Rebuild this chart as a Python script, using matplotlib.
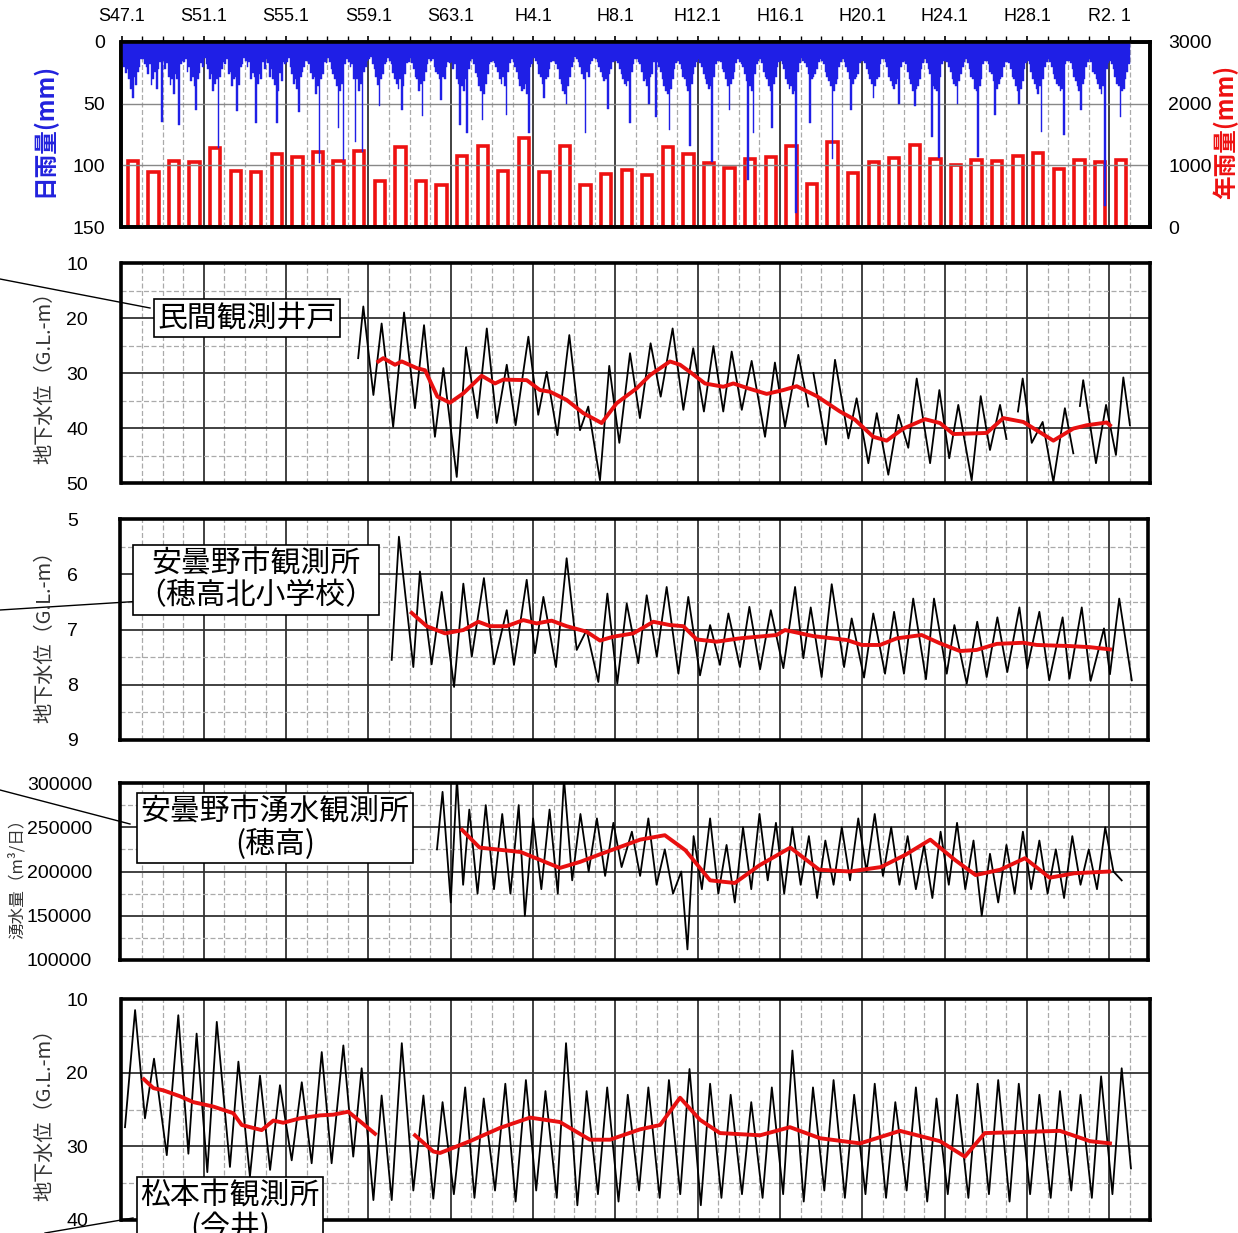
import numpy as np
import matplotlib.pyplot as plt
from matplotlib.lines import Line2D

plt.rcParams['font.family'] = ['Liberation Sans', 'Noto Sans CJK JP', 'DejaVu Sans']
JP = ['Noto Sans CJK JP', 'DejaVu Sans']

# ---- data ----
years = list(range(1972, 2021))

# annual rainfall (mm)
rain_annual = [1075, 892, 1075, 1059, 1281, 903, 887, 1178, 1135, 1211,
               1075, 1227, 746, 1297, 746, 676, 1151, 1318, 908, 1448,
               887, 1318, 676, 865, 930, 843, 1302, 1184, 1033, 962,
               1103, 1130, 1318, 692, 1383, 870, 1059, 1113, 1335, 1103,
               1010, 1081, 1065, 1157, 1200, 935, 1081, 1054, 1086]

# largest daily rainfall of each month (mm), one row per year
rain_daily_max = [
    [16, 20, 25, 22, 30, 38, 45, 28, 35, 24, 20, 14],
    [14, 18, 20, 26, 18, 35, 30, 24, 38, 22, 16, 65],
    [15, 22, 17, 28, 35, 30, 42, 26, 30, 67, 18, 15],
    [16, 14, 24, 20, 32, 28, 36, 55, 30, 25, 17, 20],
    [13, 18, 22, 30, 26, 40, 34, 30, 86, 28, 22, 16],
    [18, 14, 26, 24, 36, 30, 28, 56, 35, 20, 18, 13],
    [15, 20, 16, 30, 25, 28, 66, 34, 26, 30, 16, 22],
    [14, 17, 28, 22, 30, 35, 66, 40, 25, 32, 16, 18],
    [16, 13, 20, 26, 34, 30, 38, 57, 28, 24, 20, 15],
    [15, 18, 25, 30, 28, 42, 36, 98, 30, 26, 16, 17],
    [13, 16, 22, 26, 30, 36, 70, 40, 34, 96, 18, 14],
    [16, 20, 18, 30, 81, 30, 40, 34, 89, 24, 20, 15],
    [14, 12, 18, 22, 28, 35, 52, 30, 26, 18, 16, 13],
    [15, 18, 25, 30, 34, 38, 30, 55, 36, 26, 17, 16],
    [13, 17, 22, 28, 30, 40, 34, 60, 32, 24, 18, 14],
    [15, 14, 20, 24, 26, 30, 47, 28, 30, 20, 16, 17],
    [16, 22, 18, 30, 34, 67, 36, 40, 30, 74, 22, 15],
    [14, 18, 25, 28, 36, 40, 63, 42, 34, 26, 18, 16],
    [15, 17, 20, 24, 30, 34, 28, 36, 59, 24, 17, 14],
    [16, 20, 24, 30, 36, 40, 38, 34, 42, 74, 20, 18],
    [13, 15, 18, 26, 28, 34, 45, 30, 28, 22, 16, 15],
    [15, 18, 22, 30, 34, 40, 42, 50, 36, 28, 20, 16],
    [12, 14, 16, 20, 26, 30, 74, 24, 28, 18, 15, 13],
    [14, 16, 20, 24, 28, 32, 30, 54, 26, 22, 16, 15],
    [15, 17, 22, 26, 30, 34, 36, 32, 66, 24, 18, 14],
    [14, 16, 18, 24, 32, 30, 36, 50, 28, 26, 16, 61],
    [16, 20, 24, 30, 36, 40, 42, 71, 38, 30, 22, 17],
    [15, 18, 22, 28, 30, 36, 40, 84, 34, 26, 20, 16],
    [14, 17, 20, 26, 30, 34, 38, 36, 97, 28, 18, 15],
    [15, 16, 22, 24, 30, 36, 55, 34, 30, 24, 17, 14],
    [16, 18, 20, 26, 32, 112, 36, 40, 74, 26, 18, 15],
    [14, 17, 24, 28, 30, 36, 40, 70, 34, 28, 20, 16],
    [15, 18, 22, 30, 34, 38, 36, 42, 40, 139, 24, 17],
    [13, 15, 17, 20, 26, 66, 30, 28, 26, 22, 16, 14],
    [15, 18, 24, 28, 32, 36, 95, 40, 34, 30, 20, 16],
    [14, 16, 20, 24, 30, 55, 34, 30, 28, 26, 17, 15],
    [15, 17, 22, 26, 30, 34, 45, 36, 30, 28, 18, 14],
    [14, 16, 20, 28, 32, 36, 38, 34, 30, 50, 20, 16],
    [15, 18, 24, 30, 34, 40, 52, 38, 36, 30, 22, 17],
    [14, 17, 22, 26, 77, 36, 38, 40, 94, 28, 18, 15],
    [15, 16, 20, 24, 30, 34, 36, 50, 32, 26, 20, 16],
    [14, 17, 22, 28, 30, 38, 40, 93, 36, 30, 18, 15],
    [15, 18, 24, 26, 32, 59, 38, 34, 30, 28, 20, 16],
    [16, 17, 22, 28, 30, 36, 40, 50, 38, 32, 22, 17],
    [15, 18, 24, 30, 34, 38, 42, 36, 73, 30, 20, 16],
    [14, 16, 20, 26, 30, 34, 36, 40, 38, 75, 18, 15],
    [15, 17, 22, 28, 32, 36, 40, 55, 34, 30, 20, 16],
    [14, 16, 24, 26, 30, 34, 38, 42, 36, 133, 22, 17],
    [15, 18, 22, 28, 34, 36, 61, 40, 38, 30, 24, 18],
]

# 民間観測井戸 (m below ground)
well1_t = [1983.5, 1983.75, 1984.24, 1984.64, 1985.2, 1985.73, 1986.26, 1986.7, 1987.23, 1987.64,
           1988.29, 1988.74, 1989.29, 1989.75, 1990.23, 1990.72, 1991.15, 1991.77, 1992.25, 1992.66,
           1993.18, 1993.76, 1994.28, 1994.68, 1995.25, 1995.7, 1996.19, 1996.71, 1997.19, 1997.71,
           1998.2, 1998.78, 1999.3, 1999.78, 2000.3, 2000.76, 2001.24, 2001.65, 2002.14, 2002.62,
           2003.27, 2003.75, 2004.24, 2004.89, 2005.37, 2005.5, 2005.62, 2006.23, 2006.67, 2007.32,
           2007.72, 2008.29, 2008.7, 2009.26, 2009.75, 2010.23, 2010.64, 2011.29, 2011.74, 2012.22,
           2012.66, 2013.31, 2013.75, 2014.2, 2014.69, 2015.0, 2015.2, 2015.56, 2015.79, 2016.23,
           2016.76, 2017.28, 2017.84, 2018.25, 2018.4, 2018.57, 2018.73, 2019.35, 2019.84, 2020.32,
           2020.68, 2021.0]
well1_v = [27.3, 17.9, 34.0, 21.0, 39.8, 19.0, 36.4, 21.3, 41.6, 29.1,
           48.9, 25.3, 38.2, 21.9, 39.1, 28.5, 39.5, 23.4, 37.6, 29.8,
           41.3, 23.1, 40.4, 36.1, 49.5, 28.7, 42.7, 26.4, 38.2, 24.6,
           34.3, 21.9, 36.7, 25.5, 37.0, 25.1, 37.0, 26.1, 36.7, 27.8,
           41.6, 28.1, 39.8, 26.7, 36.1, np.nan, 30.0, 43.0, 27.6, 41.9,
           34.6, 46.4, 37.3, 48.5, 37.6, 43.6, 31.0, 46.4, 33.1, 45.5,
           35.8, 49.5, 34.2, 44.0, 35.8, 42.0, np.nan, 37.0, 31.0, 42.7,
           38.9, 49.8, 36.4, 44.6, np.nan, 36.0, 31.3, 46.4, 35.8, 44.9,
           30.8, 39.5]
well1_ma_t = [1984.48, 1984.72, 1985.29, 1985.62, 1986.34, 1986.75, 1987.35, 1987.96, 1988.61, 1989.5,
              1990.15, 1990.55, 1991.69, 1992.33, 1992.82, 1993.63, 1994.44, 1995.33, 1996.06, 1997.03,
              1997.68, 1998.65, 1999.14, 1999.62, 2000.35, 2001.24, 2001.73, 2002.46, 2003.35, 2004.16,
              2004.81, 2005.78, 2006.91, 2007.64, 2008.53, 2009.18, 2009.99, 2011.04, 2011.77, 2012.42,
              2014.04, 2014.85, 2015.82, 2017.28, 2018.25, 2018.9, 2019.87, 2020.03]
well1_ma_v = [27.9, 27.3, 28.5, 27.9, 29.1, 29.5, 34.3, 35.4, 33.7, 30.5,
              31.9, 31.2, 31.3, 33.1, 33.4, 34.9, 37.3, 39.1, 35.5, 32.8,
              30.4, 27.9, 28.5, 29.8, 31.9, 32.5, 31.9, 32.8, 33.8, 33.1,
              32.4, 34.2, 37.0, 38.5, 41.6, 42.3, 40.1, 38.4, 39.1, 41.1,
              40.9, 38.2, 38.9, 42.3, 40.1, 39.5, 39.0, 39.5]

# 安曇野市観測所(穂高北小学校) (m below ground)
well2_t = [1985.13, 1985.48, 1986.18, 1986.5, 1987.07, 1987.56, 1988.16, 1988.61, 1989.02, 1989.61,
           1990.1, 1990.72, 1991.07, 1991.69, 1992.09, 1992.5, 1993.11, 1993.63, 1994.12, 1994.6,
           1995.17, 1995.61, 1996.09, 1996.55, 1997.11, 1997.52, 1998.01, 1998.49, 1999.06, 1999.54,
           2000.11, 2000.6, 2001.08, 2001.49, 2002.05, 2002.51, 2003.03, 2003.55, 2004.16, 2004.73,
           2005.13, 2005.49, 2006.02, 2006.51, 2007.11, 2007.48, 2008.08, 2008.53, 2009.1, 2009.54,
           2010.02, 2010.47, 2011.09, 2011.48, 2012.1, 2012.47, 2013.07, 2013.58, 2014.04, 2014.56,
           2015.04, 2015.63, 2016.01, 2016.6, 2017.08, 2017.73, 2018.06, 2018.66, 2019.09, 2019.74,
           2020.03, 2020.48, 2021.09]
well2_v = [7.55, 5.32, 7.68, 5.95, 7.63, 6.32, 8.04, 6.17, 7.49, 6.07,
           7.63, 6.65, 7.64, 6.10, 7.43, 6.41, 7.68, 5.71, 7.37, 7.01,
           7.95, 6.35, 7.98, 6.53, 7.61, 6.38, 7.49, 6.23, 7.80, 6.41,
           7.83, 6.92, 7.64, 6.71, 7.68, 6.59, 7.72, 6.65, 7.70, 6.23,
           7.52, 6.60, 7.86, 6.18, 7.68, 6.80, 7.87, 6.71, 7.80, 6.68,
           7.80, 6.44, 7.90, 6.44, 7.80, 6.92, 7.98, 6.86, 7.86, 6.78,
           7.77, 6.60, 7.70, 6.68, 7.92, 6.78, 7.89, 6.60, 7.93, 6.98,
           7.81, 6.44, 7.92]
well2_ma_t = [1986.1, 1986.83, 1987.72, 1988.61, 1989.34, 1989.91, 1990.72, 1991.52, 1992.17, 1992.9,
              1993.63, 1994.6, 1995.25, 1995.9, 1996.87, 1997.84, 1998.65, 1999.3, 1999.95, 2000.92,
              2002.05, 2003.83, 2004.24, 2005.62, 2007.24, 2007.97, 2008.86, 2009.67, 2010.88, 2011.77,
              2012.74, 2013.55, 2014.53, 2015.82, 2016.47, 2018.09, 2019.06, 2020.03]
well2_ma_v = [6.70, 6.94, 7.07, 7.01, 6.86, 6.94, 6.94, 6.83, 6.89, 6.84,
              6.94, 7.04, 7.20, 7.13, 7.07, 6.86, 6.92, 6.94, 7.18, 7.22,
              7.16, 7.10, 7.01, 7.12, 7.19, 7.28, 7.28, 7.16, 7.10, 7.25,
              7.39, 7.37, 7.26, 7.24, 7.28, 7.30, 7.32, 7.36]

# 安曇野市湧水観測所(穂高) (m3/day)
spring_t = [1987.33, 1987.6, 1988.0, 1988.3, 1988.6, 1988.9, 1989.3, 1989.7, 1990.1, 1990.5,
            1990.9, 1991.3, 1991.6, 1992.0, 1992.4, 1992.8, 1993.2, 1993.5, 1993.9, 1994.3,
            1994.7, 1995.1, 1995.5, 1995.9, 1996.3, 1996.8, 1997.2, 1997.6, 1998.0, 1998.4,
            1998.8, 1999.2, 1999.5, 1999.8, 2000.2, 2000.6, 2001.0, 2001.4, 2001.8, 2002.2,
            2002.6, 2003.0, 2003.4, 2003.8, 2004.2, 2004.6, 2005.0, 2005.4, 2005.8, 2006.2,
            2006.6, 2007.0, 2007.4, 2007.8, 2008.2, 2008.6, 2009.0, 2009.4, 2009.8, 2010.2,
            2010.6, 2011.0, 2011.4, 2011.8, 2012.2, 2012.6, 2013.0, 2013.4, 2013.8, 2014.2,
            2014.6, 2015.0, 2015.4, 2015.8, 2016.2, 2016.6, 2017.0, 2017.4, 2017.8, 2018.2,
            2018.6, 2019.0, 2019.4, 2019.8, 2020.2, 2020.6]
spring_v = [225000, 290000, 165000, 305000, 185000, 270000, 175000, 275000, 180000, 265000,
            175000, 275000, 150000, 260000, 180000, 270000, 175000, 305000, 190000, 265000,
            200000, 260000, 195000, 255000, 205000, 245000, 195000, 260000, 185000, 225000,
            175000, 200000, 112000, 240000, 180000, 260000, 175000, 230000, 165000, 250000,
            180000, 265000, 190000, 255000, 175000, 250000, 185000, 240000, 170000, 235000,
            185000, 250000, 190000, 260000, 200000, 265000, 195000, 250000, 185000, 240000,
            180000, 230000, 170000, 245000, 185000, 255000, 180000, 235000, 150000, 220000,
            165000, 230000, 175000, 245000, 180000, 235000, 175000, 225000, 170000, 240000,
            185000, 225000, 180000, 250000, 200000, 190000]
spring_ma_t = [1988.55, 1989.4, 1991.4, 1993.3, 1994.3, 1995.2, 1997.2, 1998.4, 1999.4, 2000.6,
               2001.8, 2003.0, 2004.5, 2005.9, 2007.4, 2008.9, 2010.1, 2011.3, 2012.5, 2013.5,
               2014.7, 2015.9, 2017.1, 2018.3, 2020.0]
spring_ma_v = [247000, 227000, 222000, 204000, 211000, 219000, 236000, 241000, 224000, 190000,
               187000, 207000, 227000, 202000, 200000, 205000, 219000, 236000, 213000, 196000,
               202000, 215000, 193000, 198000, 200000]

# 松本市観測所(今井) (m below ground)
well3_t = [1972.17, 1972.66, 1973.14, 1973.58, 1974.2, 1974.76, 1975.25, 1975.65, 1976.17, 1976.63,
           1977.27, 1977.68, 1978.24, 1978.73, 1979.22, 1979.7, 1980.27, 1980.76, 1981.24, 1981.73,
           1982.21, 1982.78, 1983.26, 1983.67, 1984.24, 1984.64, 1985.13, 1985.62, 1986.18, 1986.67,
           1987.15, 1987.6, 1988.15, 1988.7, 1989.15, 1989.6, 1990.15, 1990.65, 1991.15, 1991.65,
           1992.15, 1992.6, 1993.15, 1993.6, 1994.15, 1994.6, 1995.15, 1995.6, 1996.15, 1996.6,
           1997.15, 1997.6, 1998.15, 1998.6, 1999.15, 1999.6, 2000.15, 2000.6, 2001.15, 2001.6,
           2002.15, 2002.6, 2003.15, 2003.6, 2004.15, 2004.6, 2005.15, 2005.6, 2006.15, 2006.6,
           2007.15, 2007.6, 2008.15, 2008.6, 2009.15, 2009.6, 2010.15, 2010.6, 2011.15, 2011.6,
           2012.15, 2012.6, 2013.15, 2013.6, 2014.15, 2014.6, 2015.15, 2015.6, 2016.15, 2016.6,
           2017.15, 2017.6, 2018.15, 2018.6, 2019.15, 2019.6, 2020.15, 2020.6, 2021.05]
well3_v = [27.4, 11.5, 26.2, 18.1, 31.2, 12.2, 31.0, 14.7, 33.5, 13.1,
           32.8, 18.5, 34.1, 20.4, 33.2, 21.7, 31.9, 21.3, 32.3, 17.2,
           32.3, 16.3, 31.4, 19.4, 37.3, 23.1, 37.3, 16.0, 36.0, 23.1,
           37.1, 24.0, 36.5, 22.0, 37.0, 23.5, 36.0, 21.5, 37.5, 21.0,
           36.0, 22.5, 37.0, 16.0, 38.0, 22.5, 36.5, 22.0, 37.5, 23.0,
           36.0, 22.0, 37.0, 21.0, 36.5, 19.5, 38.0, 21.5, 37.0, 23.0,
           36.5, 24.0, 37.0, 22.0, 36.5, 17.0, 37.5, 22.0, 36.0, 21.0,
           37.0, 23.0, 36.5, 21.5, 37.0, 24.0, 36.0, 22.0, 37.5, 23.5,
           36.5, 23.0, 37.0, 21.5, 36.5, 21.0, 37.5, 21.5, 36.5, 23.0,
           37.0, 22.5, 36.0, 23.0, 37.0, 20.5, 36.5, 19.4, 33.0]
well3_ma_t = [1973.09, 1973.55, 1974.03, 1974.84, 1975.49, 1976.46, 1977.43, 1977.84, 1978.81, 1979.38,
              1979.86, 1980.67, 1981.65, 1982.29, 1983.02, 1983.59, 1984.32, 1985.3, 1986.26, 1987.15,
              1987.48, 1988.93, 1990.39, 1991.85, 1993.3, 1994.76, 1995.74, 1997.19, 1998.17, 1999.14,
              2000.11, 2001.08, 2003.03, 2004.48, 2005.94, 2007.89, 2009.83, 2011.77, 2012.98, 2013.95,
              2017.6, 2019.06, 2020.03]
well3_ma_v = [20.9, 22.1, 22.4, 23.2, 24.0, 24.6, 25.5, 27.1, 27.8, 26.5,
              26.8, 26.2, 25.8, 25.7, 25.3, 26.6, 28.3, np.nan, 28.5, 30.7,
              30.9, 29.3, 27.5, 26.1, 26.7, 29.1, 29.1, 27.7, 27.1, 23.4,
              26.4, 28.2, 28.5, 27.4, 28.9, 29.6, 27.9, 29.3, 31.4, 28.2,
              27.9, 29.3, 29.6]

# top-axis and bottom-axis labels of the rainfall panel
top_labels = ['S47.1', 'S51.1', 'S55.1', 'S59.1', 'S63.1', 'H4.1', 'H8.1', 'H12.1',
              'H16.1', 'H20.1', 'H24.1', 'H28.1', 'R2. 1']
bottom_labels = ['S47', 'S49', 'S51', 'S53', 'S55', 'S57', 'S59', 'S61', 'S63', 'H2',
                 'H4', 'H6', 'H8', 'H10', 'H12', 'H14', 'H16', 'H18', 'H20', 'H22',
                 'H24', 'H26', 'H28', 'H30', 'R02']

# ---- layout helpers (pixel based) ----
W, H = 1238, 1233
fig = plt.figure(figsize=(W / 100, H / 100), dpi=100)

X0PX, PXYR = 121.5, 20.58


def px_axes(x0, y0, x1, y1):
    ax = fig.add_axes([x0 / W, 1 - y1 / H, (x1 - x0) / W, (y1 - y0) / H])
    ax.set_xlim(1972 + (x0 - X0PX) / PXYR, 1972 + (x1 - X0PX) / PXYR)
    return ax


def year_grid(ax):
    for yr in range(1973, 2022):
        if (yr - 1972) % 4 == 0:
            ax.axvline(yr, color='#333333', lw=1.3, zorder=1)
        else:
            ax.axvline(yr, color='#aaaaaa', lw=0.9, ls=(0, (4, 2)), zorder=1)


def style(ax, pad):
    ax.set_xticks([])
    for s in ax.spines.values():
        s.set_linewidth(2.6)
        s.set_zorder(5)
    ax.tick_params(axis='y', length=0, pad=pad, labelsize=14)


def hgrid(ax, solid, dashed):
    for v in solid:
        ax.axhline(v, color='#333333', lw=1.3, zorder=1)
    for v in dashed:
        ax.axhline(v, color='#aaaaaa', lw=0.9, ls=(0, (4, 2)), zorder=1)


def series(ax, t, v, t_ma, v_ma):
    ax.plot(t, v, color='black', lw=1.3, zorder=3, solid_joinstyle='round')
    ax.plot(t_ma, v_ma, color='#e81010', lw=2.8, zorder=4, solid_joinstyle='round')


# ---- panel 1: rainfall ----
ax1 = px_axes(121.5, 42, 1150, 227)
ax1r = ax1.twinx()
ax1.set_zorder(ax1r.get_zorder() + 1)
ax1.patch.set_visible(False)

t_month, v_month = [], []
for i, yr in enumerate(years):
    for m in range(12):
        t_month.append(yr + (m + 0.5) / 12)
        v_month.append(rain_daily_max[i][m])
ax1.bar(t_month, v_month, width=1 / 12, color='#1f1fe6', edgecolor='#1f1fe6',
        lw=0.3, zorder=3)
ax1.set_ylim(150, 0)
ax1.set_yticks([0, 50, 100, 150])
ax1.set_yticklabels(['0', '50', '100', '150'], fontsize=14)
year_grid(ax1)
ax1.axhline(50, color='#888888', lw=1.0, zorder=1)
ax1.axhline(100, color='#888888', lw=1.0, zorder=1)

ax1r.bar([y + 0.55 for y in years], rain_annual, width=0.5, fill=False,
         edgecolor='#ee1111', lw=2.6, zorder=2)
ax1r.set_ylim(0, 3000)
ax1r.set_yticks([0, 1000, 2000, 3000])
ax1r.tick_params(axis='y', length=0, pad=13, labelsize=14)
for s in ax1r.spines.values():
    s.set_linewidth(2.6)

style(ax1, 12)
ax1.set_xticks([y + 0.5 for y in range(1972, 2021, 2)])
ax1.set_xticklabels(bottom_labels, fontsize=13)
ax1.tick_params(axis='x', length=0, pad=7)
top = ax1.secondary_xaxis('top')
top.set_xticks(list(range(1972, 2021, 4)))
top.set_xticklabels(top_labels, fontsize=13)
top.set_xticks(list(range(1972, 2022)), minor=True)
top.tick_params(axis='x', which='major', length=4, width=1.2, pad=8)
top.tick_params(axis='x', which='minor', length=4, width=1.0)
ax1r.set_xticks([])

fig.text(44 / W, 1 - 130 / H, '日雨量(mm)', rotation=90, ha='center', va='center',
         color='#2222dd', fontsize=17, family=JP, fontweight='bold')
fig.text(1226 / W, 1 - 132 / H, '年雨量(mm)', rotation=90, ha='center', va='center',
         color='#ee1111', fontsize=17, family=JP, fontweight='bold')

# ---- panel 2: 民間観測井戸 ----
ax2 = px_axes(121.5, 263, 1150, 483)
year_grid(ax2)
hgrid(ax2, [20, 30, 40], [15, 25, 35, 45])
series(ax2, well1_t, well1_v, well1_ma_t, well1_ma_v)
ax2.set_ylim(50, 10)
ax2.set_yticks([10, 20, 30, 40, 50])
style(ax2, 24)

# ---- panel 3: 安曇野市観測所 ----
ax3 = px_axes(120, 519, 1148, 740)
year_grid(ax3)
hgrid(ax3, [6, 7, 8], [5.5, 6.5, 7.5, 8.5])
series(ax3, well2_t, well2_v, well2_ma_t, well2_ma_v)
ax3.set_ylim(9, 5)
ax3.set_yticks([5, 6, 7, 8, 9])
style(ax3, 30)

# ---- panel 4: 湧水 ----
ax4 = px_axes(120, 783, 1148, 960)
year_grid(ax4)
hgrid(ax4, [150000, 200000, 250000], [125000, 175000, 225000, 275000])
series(ax4, spring_t, spring_v, spring_ma_t, spring_ma_v)
ax4.set_ylim(100000, 300000)
ax4.set_yticks([100000, 150000, 200000, 250000, 300000])
ax4.set_yticklabels(['100000', '150000', '200000', '250000', '300000'])
style(ax4, 20)

# ---- panel 5: 松本市観測所 ----
ax5 = px_axes(121.5, 999, 1150, 1220)
year_grid(ax5)
hgrid(ax5, [20, 30], [15, 25, 35])
series(ax5, well3_t, well3_v, well3_ma_t, well3_ma_v)
ax5.set_ylim(40, 10)
ax5.set_yticks([10, 20, 30, 40])
style(ax5, 24)

# ---- y axis titles ----
for yc in (373, 632, 1110):
    fig.text(45 / W, 1 - yc / H, '地下水位（G.L.-m）', rotation=90, ha='center', va='center',
             color='#333333', fontsize=14.5, family=JP)
fig.text(17 / W, 1 - 875 / H, '湧水量（m³/日）', rotation=90, ha='center', va='center',
         color='#333333', fontsize=12, family=JP)

# ---- station labels with leader lines ----
boxes = [
    ('民間観測井戸', 247, 318, [(0, 279), (150, 308)]),
    ('安曇野市観測所\n（穂高北小学校）', 256, 580, [(0, 610), (143, 601)]),
    ('安曇野市湧水観測所\n(穂高)', 275, 828, [(0, 790), (130, 824)]),
    ('松本市観測所\n(今井)', 230, 1212, [(45, 1233), (133, 1218)]),
]
for txt, xc, yc, line in boxes:
    (lx0, ly0), (lx1, ly1) = line
    fig.add_artist(Line2D([lx0 / W, lx1 / W], [1 - ly0 / H, 1 - ly1 / H], color='black', lw=1.0))
    fig.text(xc / W, 1 - yc / H, txt, ha='center', va='center', multialignment='center',
             fontsize=21.5, family=JP, linespacing=1.05, zorder=10,
             bbox=dict(boxstyle='square,pad=0.12', fc='white', ec='black', lw=1.2))

fig.savefig('out.png', dpi=100)
